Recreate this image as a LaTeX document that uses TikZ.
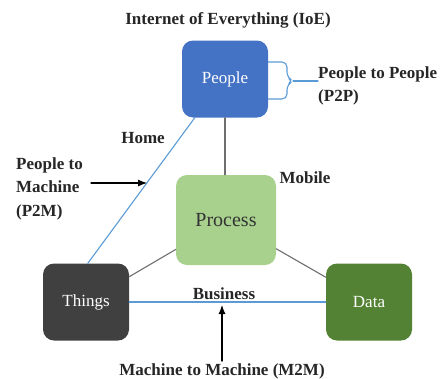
\documentclass[tikz,border=0pt]{standalone}
\usepackage{fontspec}
\setmainfont{Liberation Serif}
\usetikzlibrary{positioning,calc,arrows.meta}
\definecolor{Pblue}{RGB}{68,114,196}
\definecolor{Pgreen}{RGB}{169,209,142}
\definecolor{Tgray}{RGB}{64,64,64}
\definecolor{Dgreen}{RGB}{84,130,53}
\definecolor{Lblue}{RGB}{91,155,213}
\definecolor{Lgray}{RGB}{110,110,110}

\begin{document}
\begin{tikzpicture}[x=1pt,y=-1pt,line cap=round,line join=round,
  box/.style={rounded corners=11pt,minimum width=86pt,minimum height=77pt,inner sep=0pt,
    text=white,font=\fontsize{17}{20}\selectfont},
  lbl/.style={font=\bfseries\fontsize{17}{23.5}\selectfont,text=black!85,inner sep=0pt},
  blueline/.style={draw=Lblue,line width=1.1pt},
  grayline/.style={draw=Lgray,line width=1.1pt},
  arr/.style={-{Latex[length=9pt,width=7pt]},line width=1.1pt,black}]
\path[use as bounding box] (0,0) rectangle (441,378);
% boxes
\node[box,fill=Pblue] (people) at (225,79) {People};
\node[box,fill=Pgreen,text=black!80,minimum width=100pt,minimum height=90pt,
  font=\fontsize{20}{24}\selectfont] (process) at (226,220) {Process};
\node[box,fill=Tgray] (things) at (86,302) {Things};
\node[box,fill=Dgreen] (data) at (369,302) {Data};
% texts
\node[lbl] (title) at (228,20) {Internet of Everything (IoE)};
\node[lbl,align=left,anchor=west] (p2p) at (318,86) {People to People\\(P2P)};
\node[lbl,align=left,anchor=north west] (p2m) at (16,157) {People to\\Machine\\(P2M)};
\node[lbl] (home) at (143,138) {Home};
\node[lbl] (mobile) at (305,178) {Mobile};
\node[lbl] (business) at (224,294) {Business};
\node[lbl] (m2m) at (222,371) {Machine to Machine (M2M)};
% connectors
\draw[grayline] (people.south) -- (people.south |- process.north);
\draw[grayline] (things) -- (process);
\draw[grayline] (process) -- (data);
\draw[blueline] (things.east) -- (data.west);
\draw[blueline] ([xshift=13pt]people.south west) -- ([xshift=45pt]things.north west);
\draw[blueline,rounded corners=5pt] ([yshift=17pt]people.east) -- (287,62) -- (287,77)
  -- (293,81) -- (287,85) -- (287,99) -- ([yshift=-20pt]people.east);
\draw[blueline] (293,81) -- (p2p.west |- 293,81);
\coordinate (hm) at (147,183);
\coordinate (bz) at (222,305);
\draw[arr] (91,183) -- (hm);
\draw[arr] ([yshift=2pt]m2m.north -| bz) -- (bz);
\end{tikzpicture}
\end{document}
